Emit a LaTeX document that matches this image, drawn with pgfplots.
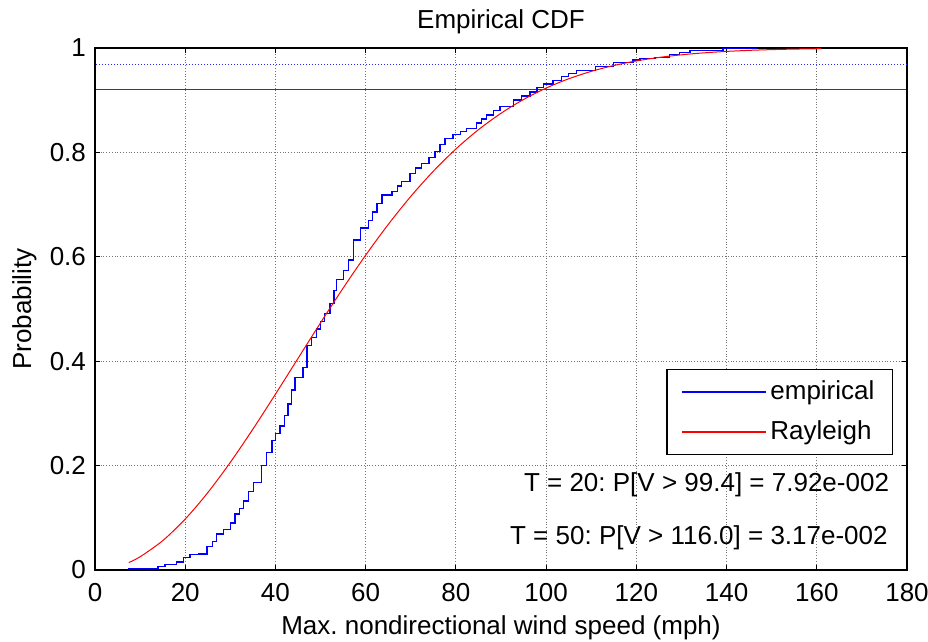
\documentclass[border=0pt]{standalone}
\usepackage{pgfplots}
\pgfplotsset{compat=1.18}
\usepackage{fontspec}
\setmainfont{Liberation Sans}
\definecolor{mblue}{RGB}{0,0,255}
\definecolor{mred}{RGB}{255,0,0}
\definecolor{hblue}{RGB}{40,40,250}
\begin{document}
\frenchspacing
\begin{tikzpicture}
\useasboundingbox (-47.5pt,-36pt) rectangle (416.5pt,285pt);
\begin{axis}[
  at={(0,0)}, anchor=south west,
  scale only axis, width=406pt, height=261pt,
  xmin=0, xmax=180, ymin=0, ymax=1,
  xtick={0,20,...,180},
  ytick={0,0.2,0.4,0.6,0.8,1},
  yticklabels={0,0.2,0.4,0.6,0.8,1},
  tick align=inside, major tick length=2.5pt,
  every tick/.style={draw=black, line width=0.6pt},
  axis line style={line width=0.6pt},
  grid=major, grid style={densely dotted, black!55, line width=0.4pt},
  font=\fontsize{13}{15}\selectfont,
  tick label style={font=\fontsize{13}{15}\selectfont},
  /pgf/number format/assume math mode=true,
  xticklabel style={yshift=-3pt},
  yticklabel style={xshift=-1pt},
  title={Empirical CDF},
  title style={at={(axis description cs:0.5,1.0153)}, anchor=base},
  xlabel={Max. nondirectional wind speed (mph)},
  ylabel={Probability},
  xlabel style={at={(axis description cs:0.5,-0.1245)}, anchor=base},
  ylabel style={at={(axis description cs:-0.0788,0.5)}, anchor=base},
  legend style={at={(axis cs:176.9,0.386)}, anchor=north east, line width=0.6pt,
    font=\fontsize{13}{15}\selectfont, row sep=5pt, inner xsep=7pt, inner ysep=4pt},
  legend cell align=left,
  legend image code/.code={\draw[#1, line width=0.7pt] (0pt,0pt) -- (42pt,0pt);},
]
\addplot[color=hblue, line width=0.5pt, densely dotted, forget plot] coordinates {(0.2,0.9683)(179.8,0.9683)};
\addplot[color=hblue, line width=0.8pt, forget plot] coordinates {(0.2,0.9208)(90,0.9208)(179.8,0.9208)};
\addplot[color=mblue, line width=0.7pt, const plot] coordinates {
(7.4,0.003)(14.0,0.007)(15.5,0.011)(18.1,0.015)(19.6,0.024)(21.1,0.030)(22.9,0.031)
(24.8,0.045)(26,0.055)(27.0,0.069)(28.5,0.078)(30,0.09)(31.0,0.107)(32,0.118)(32.9,0.132)
(34,0.150)(35.1,0.168)(36.9,0.200)(38,0.225)(39.2,0.248)(40,0.262)(41.0,0.276)(42,0.296)(42.8,0.318)
(43.5,0.345)(44.3,0.369)(46.1,0.388)(47.0,0.430)(48,0.445)(49.1,0.462)(50.0,0.476)(50.9,0.491)(52.1,0.511)
(53,0.535)(53.6,0.556)(55.1,0.574)(56.2,0.594)(57.3,0.632)(58.8,0.655)(60.6,0.670)(61.5,0.686)
(62.5,0.702)(63.6,0.718)(65.8,0.725)(67,0.736)(68.0,0.744)(69.8,0.760)(71,0.770)(72.4,0.779)
(74,0.790)(75.4,0.802)(76.5,0.815)(77.6,0.827)(79.4,0.834)(81,0.840)(82.4,0.846)(84.6,0.856)
(85.7,0.864)(86.8,0.872)(88.3,0.880)(89.8,0.888)(92.8,0.900)(94.5,0.908)(96.4,0.916)(98,0.924)(99.4,0.931)
(101.5,0.938)(103.4,0.945)(105,0.951)(106.8,0.957)(110.9,0.965)(114.9,0.972)(119.3,0.977)
(120.8,0.980)(124.1,0.982)(127.4,0.987)(129.6,0.991)(131.9,0.995)(139.2,0.999)(146.6,1.0)
};
\addlegendentry{empirical}
\addplot[color=mred, line width=0.5pt, smooth] coordinates {
(7.5,0.01433)(10,0.02534)(15,0.05611)(20,0.09758)(25,0.14821)(30,0.20626)(35,0.26980)
(40,0.33680)(45,0.40535)(50,0.47358)(55,0.53996)(60,0.60307)(65,0.66192)(70,0.71569)
(75,0.76396)(80,0.80656)(85,0.84347)(90,0.87494)(95,0.90138)(100,0.92321)(105,0.94098)
(110,0.95520)(115,0.96643)(120,0.97518)(125,0.98188)(130,0.98693)(135,0.99070)(140,0.99347)
(145,0.99547)(150,0.99690)(155,0.99790)(161,0.99871)
};
\addlegendentry{Rayleigh}
\node[anchor=east, inner sep=0pt, font=\fontsize{13}{15}\selectfont] at (axis cs:176.1,0.163) {T = 20: P[V > 99.4] = 7.92e-002};
\node[anchor=east, inner sep=0pt, font=\fontsize{13}{15}\selectfont] at (axis cs:175.8,0.061) {T = 50: P[V > 116.0] = 3.17e-002};
\end{axis}
\end{tikzpicture}
\end{document}
